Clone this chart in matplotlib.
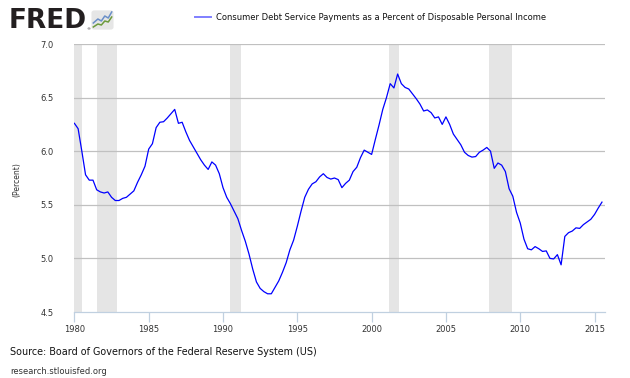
import matplotlib
matplotlib.use("Agg")
import matplotlib.pyplot as plt
from matplotlib.patches import FancyBboxPatch
import numpy as np

# ---- data (quarterly, 1980Q1 .. 2015Q3) ----
start_year = 1980
values = [
    6.26, 6.21, 6.00, 5.78,   # 1980
    5.73, 5.73, 5.64, 5.62,   # 1981
    5.61, 5.62, 5.57, 5.54,   # 1982
    5.54, 5.56, 5.57, 5.60,   # 1983
    5.63, 5.71, 5.78, 5.86,   # 1984
    6.02, 6.07, 6.22, 6.27,   # 1985
    6.275, 6.31, 6.35, 6.39,  # 1986
    6.26, 6.27, 6.18, 6.10,   # 1987
    6.04, 5.98, 5.92, 5.87,   # 1988
    5.83, 5.90, 5.87, 5.79,   # 1989
    5.66, 5.57, 5.51, 5.44,   # 1990
    5.37, 5.26, 5.16, 5.04,   # 1991
    4.90, 4.78, 4.72, 4.69,   # 1992
    4.67, 4.67, 4.73, 4.79,   # 1993
    4.87, 4.96, 5.08, 5.17,   # 1994
    5.30, 5.44, 5.57, 5.645,  # 1995
    5.695, 5.715, 5.76, 5.79, # 1996
    5.755, 5.74, 5.75, 5.735, # 1997
    5.66, 5.70, 5.73, 5.81,   # 1998
    5.85, 5.94, 6.01, 5.99,   # 1999
    5.97, 6.11, 6.245, 6.39,  # 2000
    6.50, 6.63, 6.59, 6.72,   # 2001
    6.63, 6.595, 6.58, 6.535, # 2002
    6.49, 6.44, 6.375, 6.385, # 2003
    6.36, 6.31, 6.32, 6.25,   # 2004
    6.32, 6.25, 6.16, 6.11,   # 2005
    6.06, 5.99, 5.96, 5.945,  # 2006
    5.95, 5.99, 6.01, 6.035,  # 2007
    6.00, 5.84, 5.89, 5.87,   # 2008
    5.81, 5.65, 5.58, 5.43,   # 2009
    5.33, 5.18, 5.09, 5.08,   # 2010
    5.11, 5.09, 5.065, 5.07,  # 2011
    5.00, 4.995, 5.035, 4.94, # 2012
    5.205, 5.24, 5.255, 5.285,# 2013
    5.28, 5.315, 5.34, 5.365, # 2014
    5.41, 5.47, 5.525,        # 2015
]
dates = [start_year + i / 4.0 for i in range(len(values))]

recession_starts = [1980.0, 1981.5, 1990.5, 2001.17, 2007.92]
recession_ends = [1980.5, 1982.88, 1991.2, 2001.85, 2009.45]

y_ticks = [4.5, 5.0, 5.5, 6.0, 6.5, 7.0]
y_tick_labels = ["4.5", "5.0", "5.5", "6.0", "6.5", "7.0"]
x_ticks = [1980, 1985, 1990, 1995, 2000, 2005, 2010, 2015]
x_tick_labels = ["1980", "1985", "1990", "1995", "2000", "2005", "2010", "2015"]

series_name = "Consumer Debt Service Payments as a Percent of Disposable Personal Income"
source_text = "Source: Board of Governors of the Federal Reserve System (US)"
url_text = "research.stlouisfed.org"

# logo icon decorative lines
icon_blue_x = [0.1, 0.3, 0.45, 0.6, 0.75, 0.9]
icon_blue_y = [0.35, 0.55, 0.45, 0.7, 0.6, 0.9]
icon_green_x = [0.1, 0.3, 0.45, 0.6, 0.75, 0.9]
icon_green_y = [0.15, 0.3, 0.25, 0.45, 0.4, 0.65]

# ---- figure ----
W, H = 630, 378
fig = plt.figure(figsize=(W / 100, H / 100), dpi=100)
fig.patch.set_facecolor("white")

left, right, top, bottom = 74.4, 604.5, 44, 312
ax = fig.add_axes([left / W, 1 - bottom / H, (right - left) / W, (bottom - top) / H])

for s, e in zip(recession_starts, recession_ends):
    ax.axvspan(s, e, color="#e5e5e5", lw=0, zorder=0)

for yv in y_ticks[1:]:
    ax.axhline(yv, color="#c0c0c0", lw=0.9, zorder=1)

ax.plot(dates, values, color="#0000ff", lw=0.9, zorder=3)

ax.set_xlim(1980, 2015.67)
ax.set_ylim(4.5, 7.0)
ax.set_yticks(y_ticks)
ax.set_yticklabels(y_tick_labels)
ax.set_xticks(x_ticks)
ax.set_xticklabels(x_tick_labels)

for sp in ["top", "right", "left"]:
    ax.spines[sp].set_visible(False)
ax.spines["bottom"].set_color("#c0d0e0")
ax.spines["bottom"].set_linewidth(0.9)

ax.tick_params(axis="y", length=0, pad=15, labelsize=6, labelcolor="#333333")
ax.tick_params(axis="x", length=7, width=0.9, color="#c0d0e0", pad=2,
               labelsize=6, labelcolor="#333333")
for lbl in ax.get_yticklabels():
    lbl.set_horizontalalignment("right")

fig.text(17 / W, 1 - 180 / H, "(Percent)", rotation=90, fontsize=5.5,
         color="#333333", ha="center", va="center")

# ---- header: logo + legend ----
fig.text(9 / W, 1 - 21 / H, "FRED", fontsize=19, fontweight="bold",
         color="#231f20", ha="left", va="center")
fig.text(86 / W, 1 - 29 / H, "\u00ae", fontsize=3, color="#231f20",
         ha="left", va="center")
iax = fig.add_axes([91 / W, 1 - 30 / H, 23 / W, 20 / H])
iax.set_xlim(0, 1)
iax.set_ylim(0, 1)
iax.axis("off")
iax.add_patch(FancyBboxPatch((0.02, 0.02), 0.96, 0.96,
                             boxstyle="round,pad=0,rounding_size=0.12",
                             fc="#e6e6e6", ec="none"))
iax.plot(icon_blue_x, icon_blue_y, color="#6a8fc8", lw=1.1)
iax.plot(icon_green_x, icon_green_y, color="#6c9a3c", lw=1.1)

fig.add_artist(plt.Line2D([195 / W, 211 / W], [1 - 17 / H, 1 - 17 / H],
                          color="#7f7fff", lw=1.4))
fig.text(216 / W, 1 - 17 / H, series_name, fontsize=6.0, color="#111111",
         ha="left", va="center")

# ---- footer ----
fig.text(10 / W, 1 - 352 / H, source_text, fontsize=6.9, color="#111111",
         ha="left", va="center")
fig.text(10 / W, 1 - 371 / H, url_text, fontsize=6.0, color="#333333",
         ha="left", va="center")

fig.savefig("out.png", dpi=100, facecolor="white")
